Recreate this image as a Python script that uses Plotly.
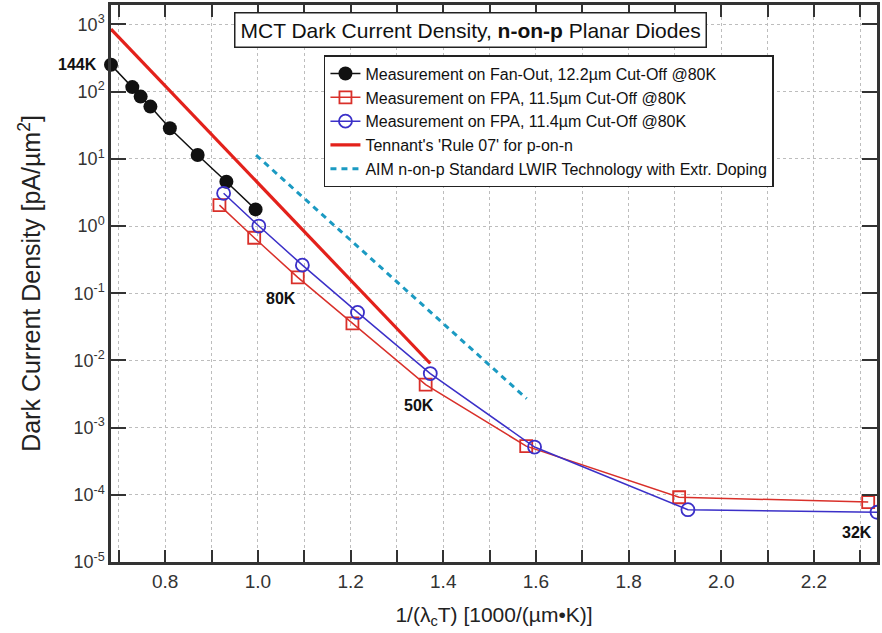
import math
import plotly.graph_objects as go

# ---- data ----
fan_x = [0.683, 0.729, 0.747, 0.768, 0.810, 0.870, 0.932, 0.995]
fan_y = [251, 117, 84.5, 60, 28.6, 11.4, 4.57, 1.77]

fpa115_x = [0.917, 0.992, 1.086, 1.204, 1.362, 1.579, 1.909, 2.317]
fpa115_y = [2.05, 0.67, 0.172, 0.0355, 0.00437, 5.3e-4, 9.2e-5, 7.8e-5]

fpa114_x = [0.926, 1.002, 1.096, 1.215, 1.372, 1.597, 1.928, 2.336]
fpa114_y = [3.07, 1.0, 0.262, 0.0518, 0.00638, 5.14e-4, 6.0e-5, 5.5e-5]

rule07_x = [0.683, 1.089, 1.372]
rule07_y = [855, 0.98, 0.009]

aim_x = [0.996, 1.580]
aim_y = [11.4, 0.0027]

x_ticks = [0.8, 1.0, 1.2, 1.4, 1.6, 1.8, 2.0, 2.2]
x_tick_labels = ["0.8", "1.0", "1.2", "1.4", "1.6", "1.8", "2.0", "2.2"]
y_exps = [-5, -4, -3, -2, -1, 0, 1, 2, 3]

# temperature labels, anchored to a measured point (series, index)
temp_labels = ["144K", "80K", "50K", "32K"]
temp_anchor = [("fan", 0), ("fpa115", 2), ("fpa115", 4), ("fpa115", 7)]

FONT = "Arial, Liberation Sans, Helvetica, sans-serif"
BLACK = "#111111"
RED = "#d9302a"
BLUE = "#3b30c8"
TRED = "#e3211b"
CYAN = "#1b9ac2"

series = {"fan": (fan_x, fan_y), "fpa115": (fpa115_x, fpa115_y), "fpa114": (fpa114_x, fpa114_y)}

fig = go.Figure()

fig.add_trace(go.Scatter(
    x=fan_x, y=fan_y, mode="lines+markers", cliponaxis=False,
    name="Measurement on Fan-Out, 12.2µm Cut-Off @80K",
    line=dict(color=BLACK, width=1.5),
    marker=dict(symbol="circle", size=14, color=BLACK)))

fig.add_trace(go.Scatter(
    x=fpa115_x, y=fpa115_y, mode="lines+markers",
    name="Measurement on FPA, 11.5µm Cut-Off @80K",
    line=dict(color=RED, width=1.5),
    marker=dict(symbol="square-open", size=12, color=RED, line=dict(width=1.8))))

fig.add_trace(go.Scatter(
    x=fpa114_x, y=fpa114_y, mode="lines+markers",
    name="Measurement on FPA, 11.4µm Cut-Off @80K",
    line=dict(color=BLUE, width=1.5),
    marker=dict(symbol="circle-open", size=13, color=BLUE, line=dict(width=1.8))))

fig.add_trace(go.Scatter(
    x=rule07_x, y=rule07_y, mode="lines",
    name="Tennant's 'Rule 07' for p-on-n",
    line=dict(color=TRED, width=3.2)))

fig.add_trace(go.Scatter(
    x=aim_x, y=aim_y, mode="lines",
    name="AIM n-on-p Standard LWIR Technology with Extr. Doping",
    line=dict(color=CYAN, width=3, dash="6px,5px")))

# label offsets in pixels (xshift, yshift, xanchor)
label_style = {
    "144K": (-12, 0, "right"),
    "80K": (-17, -21, "center"),
    "50K": (-7, -21, "center"),
    "32K": (-11, -30, "center"),
}
for txt, (sname, idx) in zip(temp_labels, temp_anchor):
    sx, sy = series[sname]
    xs, ys, xa = label_style[txt]
    fig.add_annotation(x=sx[idx], y=math.log10(sy[idx]), xref="x", yref="y",
                       text="<b>%s</b>" % txt, showarrow=False,
                       xanchor=xa, yanchor="middle", xshift=xs, yshift=ys,
                       font=dict(family=FONT, size=16, color=BLACK))

fig.add_annotation(xref="paper", yref="paper", x=0.4694, y=0.955,
                   text="MCT Dark Current Density, <b>n-on-p</b> Planar Diodes",
                   showarrow=False, xanchor="center", yanchor="middle",
                   bgcolor="white", bordercolor="#222", borderwidth=1.5, borderpad=5,
                   font=dict(family=FONT, size=21, color=BLACK))

fig.update_layout(
    width=882, height=633,
    margin=dict(l=111, r=2, t=5, b=71),
    paper_bgcolor="white", plot_bgcolor="white",
    font=dict(family=FONT, size=16, color="#333"),
    showlegend=True,
    legend=dict(x=0.278, y=0.91, xanchor="left", yanchor="top",
                bgcolor="white", bordercolor="#222", borderwidth=1.5,
                font=dict(family=FONT, size=16, color=BLACK),
                itemwidth=30, tracegroupgap=0),
)

fig.update_xaxes(
    range=[0.683, 2.336],
    tickmode="array", tickvals=x_ticks, ticktext=x_tick_labels,
    ticks="inside", ticklen=12, tickwidth=2, tickcolor="#333",
    minor=dict(dtick=0.1, tick0=0.7, ticks="inside", ticklen=12, tickwidth=1.5,
               tickcolor="#333", showgrid=True, gridcolor="#bdbdbd", griddash="dot", gridwidth=1),
    showgrid=True, gridcolor="#bdbdbd", griddash="dot", gridwidth=1,
    showline=True, linecolor="#333", linewidth=2.5, mirror="ticks",
    zeroline=False,
    tickfont=dict(family=FONT, size=19, color="#333"),
    title=dict(text="1/(λ<sub>c</sub>T) [1000/(µm•K)]", standoff=17,
               font=dict(family=FONT, size=21, color="#222")),
)

fig.update_yaxes(
    type="log", range=[-5, 3.29],
    tickmode="array", tickvals=[10.0 ** e for e in y_exps],
    ticktext=["10<sup>%d</sup>" % e for e in y_exps],
    ticks="inside", ticklen=15, tickwidth=2, tickcolor="#333",
    showgrid=True, gridcolor="#bdbdbd", griddash="dot", gridwidth=1,
    showline=True, linecolor="#333", linewidth=2.5, mirror="ticks",
    zeroline=False,
    tickfont=dict(family=FONT, size=18, color="#333"),
    title=dict(text="Dark Current Density [pA/µm<sup>2</sup>]", standoff=26,
               font=dict(family=FONT, size=25, color="#222")),
)

fig.write_html("out.html")
